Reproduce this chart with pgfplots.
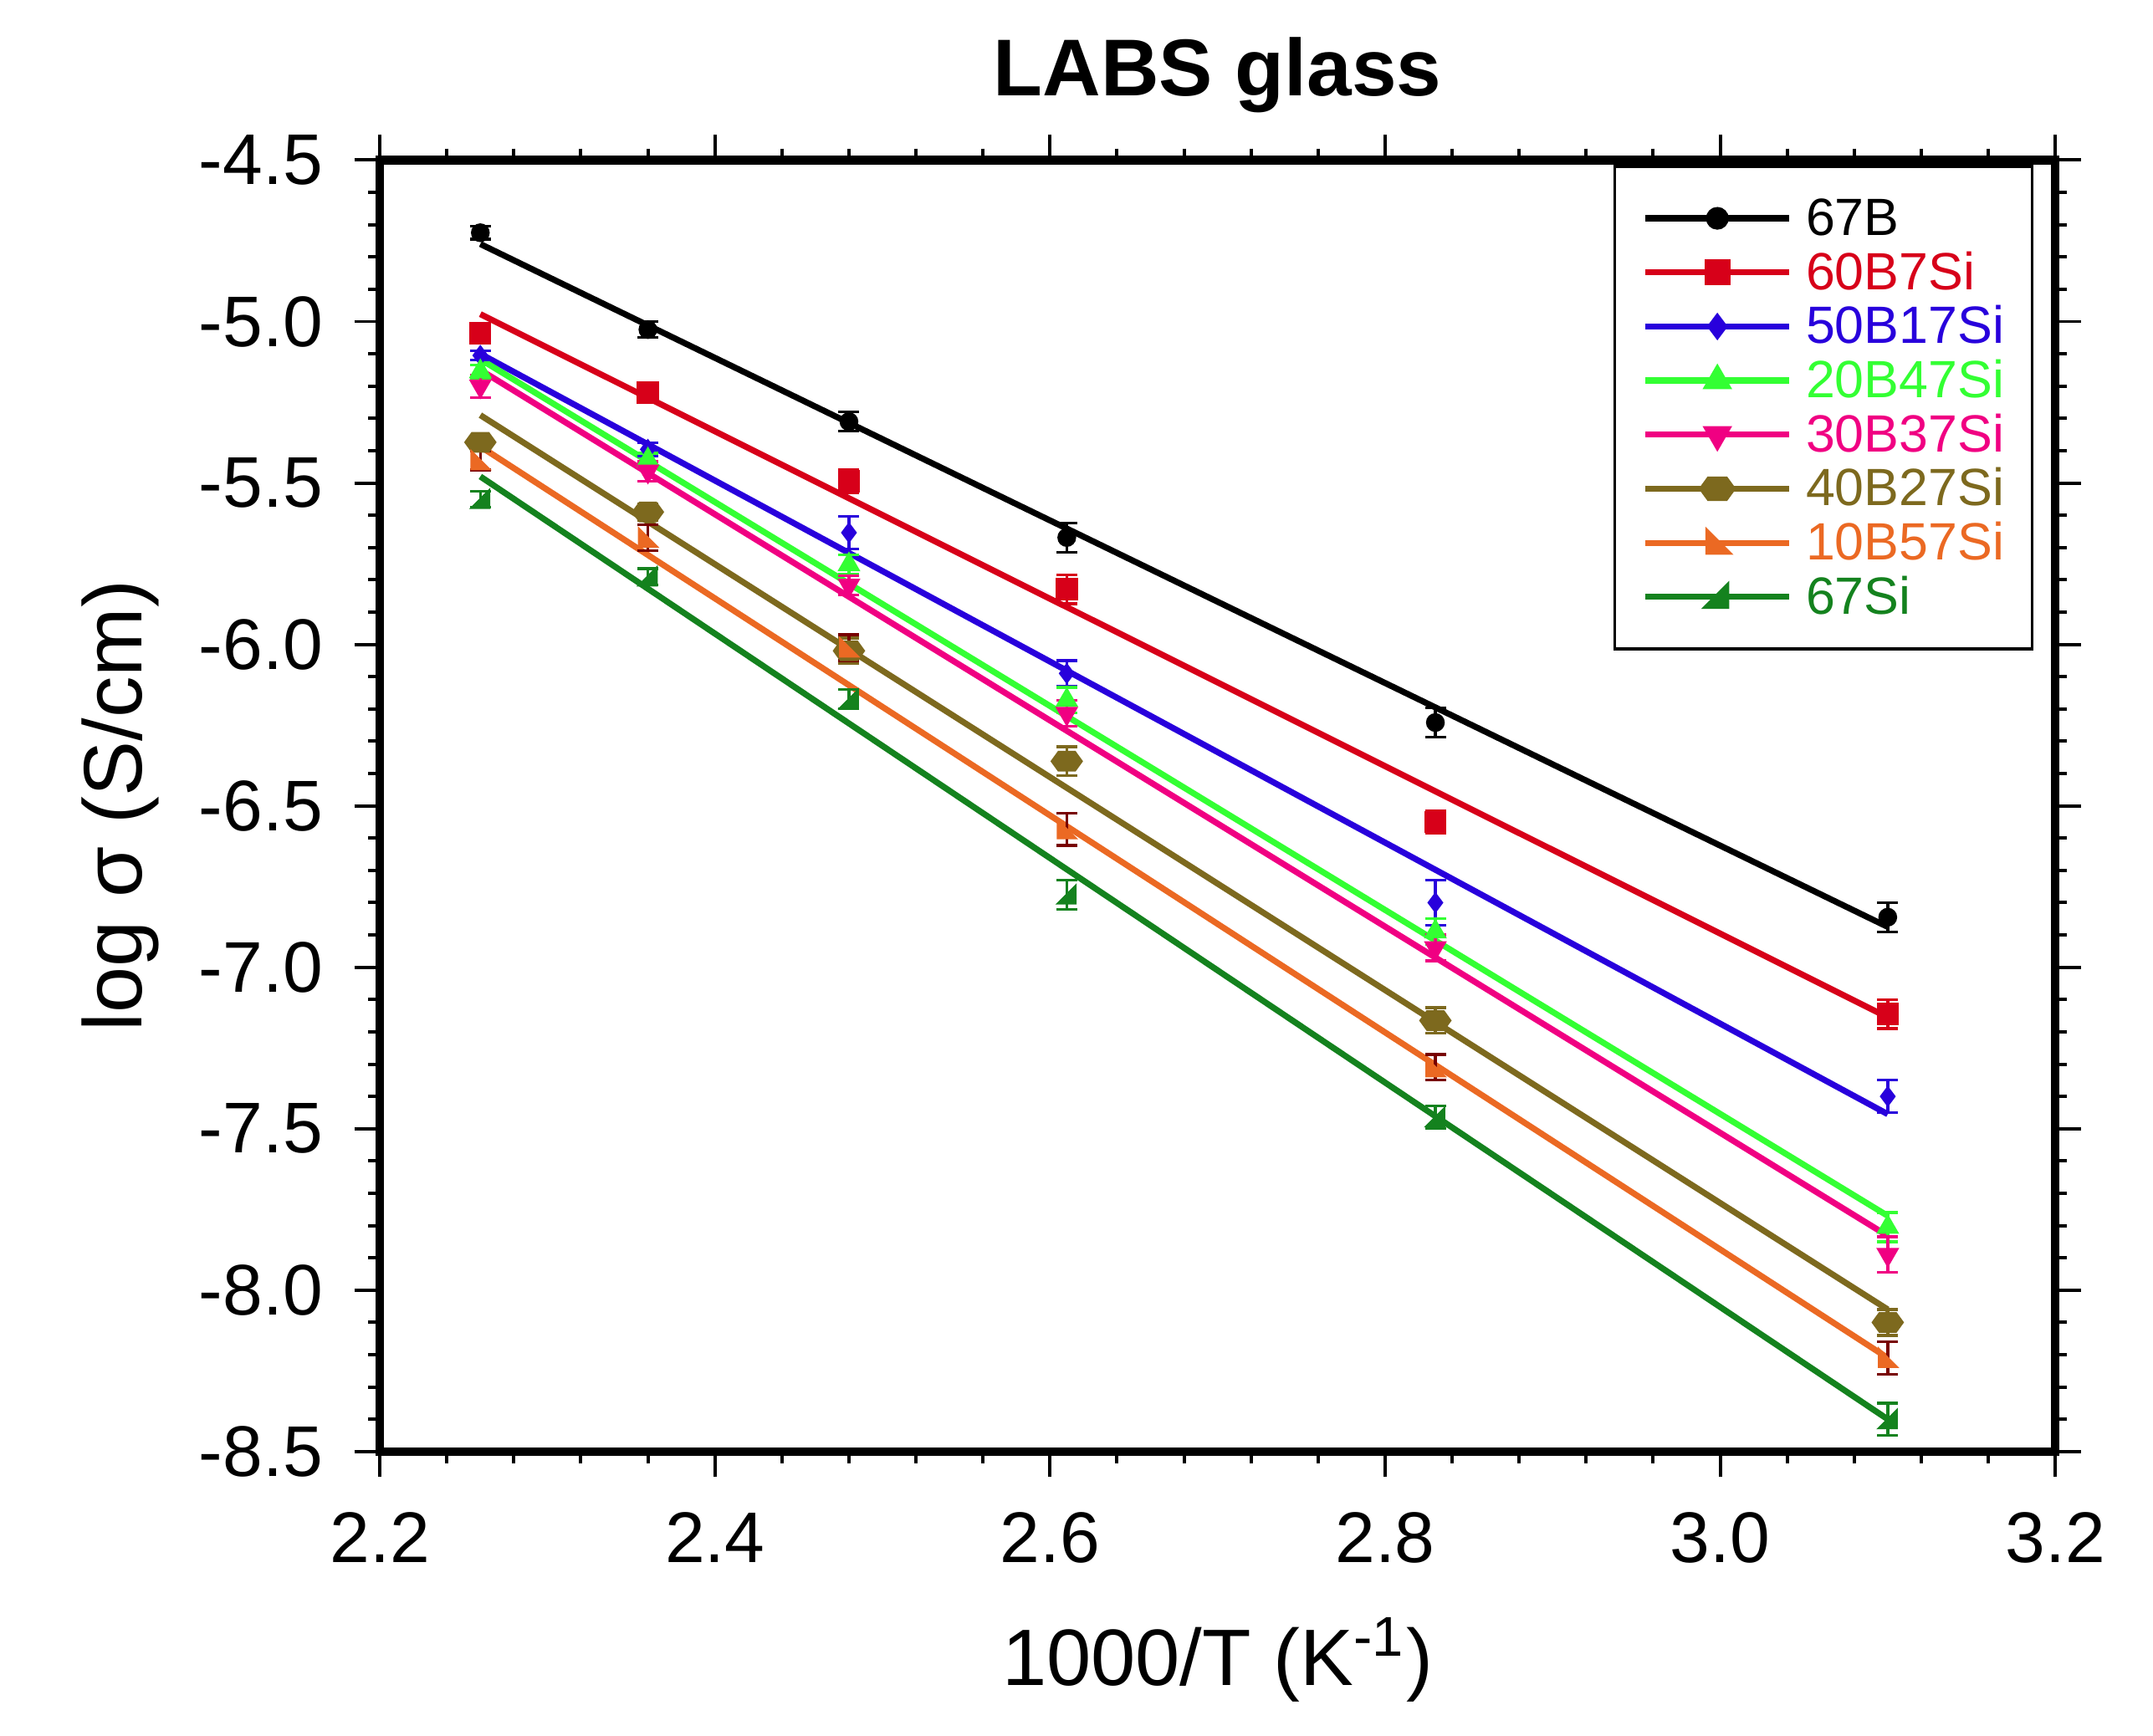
\documentclass[border=0pt]{standalone}
\usepackage{fontspec}
\setmainfont{Liberation Sans}
\usepackage{pgfplots}
\usepackage{pgfplotstable}
\pgfplotsset{compat=1.18}
\usetikzlibrary{plotmarks}

\definecolor{cB}{RGB}{0,0,0}
\definecolor{cR}{RGB}{215,0,25}
\definecolor{cBl}{RGB}{40,0,220}
\definecolor{cG}{RGB}{51,255,51}
\definecolor{cP}{RGB}{240,0,130}
\definecolor{cO}{RGB}{125,105,30}
\definecolor{cOr}{RGB}{235,105,35}
\definecolor{cDG}{RGB}{20,130,30}
\definecolor{cMar}{RGB}{120,0,0}

\pgfdeclareplotmark{hexagon*}{%
 \pgfpathmoveto{\pgfqpoint{\pgfplotmarksize}{0pt}}%
 \pgfpathlineto{\pgfqpoint{0.55\pgfplotmarksize}{0.62\pgfplotmarksize}}%
 \pgfpathlineto{\pgfqpoint{-0.55\pgfplotmarksize}{0.62\pgfplotmarksize}}%
 \pgfpathlineto{\pgfqpoint{-\pgfplotmarksize}{0pt}}%
 \pgfpathlineto{\pgfqpoint{-0.55\pgfplotmarksize}{-0.62\pgfplotmarksize}}%
 \pgfpathlineto{\pgfqpoint{0.55\pgfplotmarksize}{-0.62\pgfplotmarksize}}%
 \pgfpathclose\pgfusepathqfillstroke}
\pgfdeclareplotmark{rtriA}{%
 \pgfpathmoveto{\pgfqpoint{-\pgfplotmarksize}{-\pgfplotmarksize}}%
 \pgfpathlineto{\pgfqpoint{\pgfplotmarksize}{-\pgfplotmarksize}}%
 \pgfpathlineto{\pgfqpoint{-\pgfplotmarksize}{\pgfplotmarksize}}%
 \pgfpathclose\pgfusepathqfillstroke}
\pgfdeclareplotmark{rtriB}{%
 \pgfpathmoveto{\pgfqpoint{-\pgfplotmarksize}{-\pgfplotmarksize}}%
 \pgfpathlineto{\pgfqpoint{\pgfplotmarksize}{-\pgfplotmarksize}}%
 \pgfpathlineto{\pgfqpoint{\pgfplotmarksize}{\pgfplotmarksize}}%
 \pgfpathclose\pgfusepathqfillstroke}

% data points: x, log sigma, error
\pgfplotstableread{
x y e
2.26 -4.725 0.02
2.36 -5.025 0.025
2.48 -5.310 0.03
2.61 -5.669 0.045
2.83 -6.242 0.045
3.10 -6.845 0.045
}\dA
\pgfplotstableread{
x y e
2.26 -5.036 0.03
2.36 -5.220 0.03
2.48 -5.495 0.035
2.61 -5.829 0.045
2.83 -6.550 0.035
3.10 -7.145 0.045
}\dB
\pgfplotstableread{
x y e
2.26 -5.105 0.015
2.36 -5.396 0.02
2.48 -5.654 0.05
2.61 -6.090 0.04
2.83 -6.800 0.07
3.10 -7.400 0.05
}\dC
\pgfplotstableread{
x y e
2.26 -5.155 0.02
2.36 -5.428 0.02
2.48 -5.753 0.03
2.61 -6.173 0.04
2.83 -6.890 0.04
3.10 -7.805 0.045
}\dD
\pgfplotstableread{
x y e
2.26 -5.200 0.035
2.36 -5.464 0.03
2.48 -5.817 0.03
2.61 -6.214 0.04
2.83 -6.940 0.04
3.10 -7.890 0.055
}\dE
\pgfplotstableread{
x y e
2.26 -5.374 0.02
2.36 -5.590 0.025
2.48 -6.020 0.04
2.61 -6.362 0.045
2.83 -7.165 0.04
3.10 -8.100 0.04
}\dF
\pgfplotstableread{
x y e
2.26 -5.430 0.03
2.36 -5.670 0.04
2.48 -6.010 0.04
2.61 -6.573 0.05
2.83 -7.310 0.04
3.10 -8.210 0.05
}\dG
\pgfplotstableread{
x y e
2.26 -5.550 0.025
2.36 -5.790 0.025
2.48 -6.170 0.03
2.61 -6.775 0.045
2.83 -7.465 0.035
3.10 -8.400 0.05
}\dH

\pgfplotsset{
  ebar/.style={error bars/.cd, y dir=both, y explicit,
    error bar style={line width=0.5pt},
    error mark options={rotate=90, mark size=1.9pt, line width=0.5pt}, /pgfplots/.cd},
  ebarM/.style={error bars/.cd, y dir=both, y explicit,
    error bar style={line width=0.5pt, cMar},
    error mark options={rotate=90, mark size=1.9pt, line width=0.5pt, cMar}, /pgfplots/.cd},
}

\begin{document}
\begin{tikzpicture}
\useasboundingbox (-68.8pt,-51.4pt) rectangle (321.2pt,263pt);
\begin{axis}[
  at={(0,0)}, anchor=south west,
  scale only axis, width=303.5pt, height=234pt,
  xmin=2.2, xmax=3.2, ymin=-8.5, ymax=-4.5,
  xtick={2.2,2.4,2.6,2.8,3.0,3.2},
  ytick={-8.5,-8.0,-7.5,-7.0,-6.5,-6.0,-5.5,-5.0,-4.5},
  minor x tick num=4, minor y tick num=4,
  tick align=outside,
  major tick length=4.6pt, minor tick length=2.1pt,
  every tick/.style={black, line width=0.6pt},
  axis line style={line width=1.6pt},
  /pgf/number format/fixed,
  /pgf/number format/fixed zerofill,
  /pgf/number format/precision=1,
  /pgf/number format/assume math mode=true,
  ticklabel style={font=\fontsize{13}{15}\selectfont},
  xticklabel style={anchor=base, inner sep=0pt, yshift=-15.5pt},
  yticklabel style={anchor=east, inner sep=0pt, xshift=-5.55pt},
  title={LABS glass},
  title style={font=\fontsize{14.6}{17}\selectfont\bfseries, at={(0.5,1)}, anchor=base, yshift=5.7pt},
  xlabel={1000/T (K\textsuperscript{-1})},
  xlabel style={font=\fontsize{14.5}{17}\selectfont, at={(axis description cs:0.5,0)}, anchor=base, yshift=-42.3pt},
  ylabel={log σ (S/cm)},
  ylabel style={font=\fontsize{15}{18}\selectfont, at={(axis description cs:0,0.5)}, anchor=center, yshift=47pt},
  legend image code/.code={\draw[mark repeat=2, mark phase=2, #1] plot coordinates {(0pt,0pt) (13pt,0pt) (26pt,0pt)};},
  legend style={at={(1,1)}, anchor=north east, xshift=-4pt, yshift=-0.9pt,
    draw=black, line width=0.5pt, fill=white, inner xsep=5pt, inner ysep=4.5pt,
    font=\fontsize{9.5}{11}\selectfont, column sep=2.5pt, row sep=0pt,
    nodes={inner sep=0pt, text height=8pt, text depth=1.8pt}},
  legend cell align=left,
]
% fitted lines
\addplot[cB, line width=1.1pt, forget plot] coordinates {(2.26,-4.760) (3.10,-6.875)};
\addplot[cR, line width=1.1pt, forget plot] coordinates {(2.26,-4.977) (3.10,-7.155)};
\addplot[cBl, line width=1.1pt, forget plot] coordinates {(2.26,-5.100) (3.10,-7.455)};
\addplot[cG, line width=1.1pt, forget plot] coordinates {(2.26,-5.117) (3.10,-7.770)};
\addplot[cP, line width=1.1pt, forget plot] coordinates {(2.26,-5.150) (3.10,-7.832)};
\addplot[cO, line width=1.1pt, forget plot] coordinates {(2.26,-5.290) (3.10,-8.060)};
\addplot[cOr, line width=1.1pt, forget plot] coordinates {(2.26,-5.387) (3.10,-8.210)};
\addplot[cDG, line width=1.1pt, forget plot] coordinates {(2.26,-5.480) (3.10,-8.400)};
% data points with error bars
\addplot[cB, only marks, mark=*, mark size=1.5pt, forget plot, ebar] table[x=x, y=y, y error=e]{\dA};
\addplot[cR, only marks, mark=square*, mark size=1.8pt, forget plot, ebar] table[x=x, y=y, y error=e]{\dB};
\addplot[cBl, only marks, mark=diamond*, mark size=1.6pt, forget plot, ebar] table[x=x, y=y, y error=e]{\dC};
\addplot[cG, only marks, mark=triangle*, mark size=2pt, forget plot, ebar] table[x=x, y=y, y error=e]{\dD};
\addplot[cP, only marks, mark=triangle*, mark options={rotate=180}, mark size=2pt, forget plot, ebar] table[x=x, y=y, y error=e]{\dE};
\addplot[cO, only marks, mark=hexagon*, mark size=2.7pt, forget plot, ebar] table[x=x, y=y, y error=e]{\dF};
\addplot[cOr, only marks, mark=rtriA, mark size=1.6pt, forget plot, ebarM] table[x=x, y=y, y error=e]{\dG};
\addplot[cDG, only marks, mark=rtriB, mark size=1.6pt, forget plot, ebar] table[x=x, y=y, y error=e]{\dH};
% legend
\addlegendimage{cB, line width=1.1pt, mark=*, mark size=1.5pt}
\addlegendentry{\textcolor{cB}{67B}}
\addlegendimage{cR, line width=1.1pt, mark=square*, mark size=1.8pt}
\addlegendentry{\textcolor{cR}{60B7Si}}
\addlegendimage{cBl, line width=1.1pt, mark=diamond*, mark size=1.6pt}
\addlegendentry{\textcolor{cBl}{50B17Si}}
\addlegendimage{cG, line width=1.1pt, mark=triangle*, mark size=2pt}
\addlegendentry{\textcolor{cG}{20B47Si}}
\addlegendimage{cP, line width=1.1pt, mark=triangle*, mark size=2pt, mark options={rotate=180}}
\addlegendentry{\textcolor{cP}{30B37Si}}
\addlegendimage{cO, line width=1.1pt, mark=hexagon*, mark size=2.7pt}
\addlegendentry{\textcolor{cO}{40B27Si}}
\addlegendimage{cOr, line width=1.1pt, mark=rtriA, mark size=1.6pt}
\addlegendentry{\textcolor{cOr}{10B57Si}}
\addlegendimage{cDG, line width=1.1pt, mark=rtriB, mark size=1.6pt}
\addlegendentry{\textcolor{cDG}{67Si}}
\end{axis}
\end{tikzpicture}
\end{document}
